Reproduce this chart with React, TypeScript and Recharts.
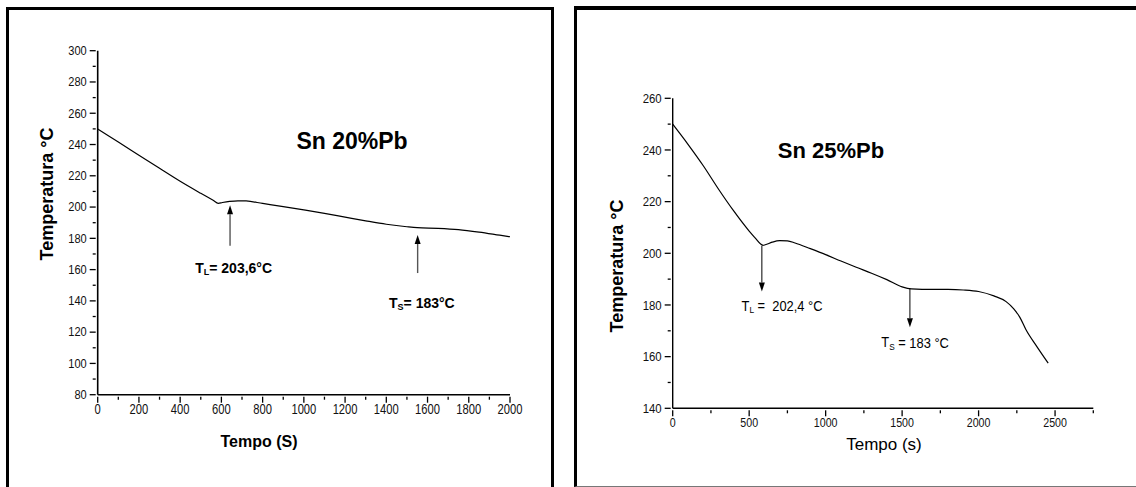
import React from "react";
import { LineChart, Line, XAxis, YAxis, ReferenceLine, ReferenceDot } from "recharts";

// Sn 20%Pb cooling curve
const sn20Time = [0, 100, 200, 300, 400, 500, 560, 585, 605, 640, 680, 720, 800, 900, 1000, 1100, 1200, 1300, 1400, 1500, 1550, 1650, 1750, 1850, 1950, 2000];
const sn20Temp = [250, 241.6, 233.2, 224.8, 216.5, 208.8, 204.3, 202.4, 202.9, 203.6, 204, 203.9, 202.3, 200.3, 198.2, 196, 193.6, 191.2, 189, 187.4, 186.8, 186.4, 185.6, 184, 182, 181];

// Sn 25%Pb cooling curve
const sn25Time = [0, 100, 200, 300, 400, 500, 540, 575, 590, 605, 650, 700, 750, 800, 900, 1000, 1100, 1200, 1300, 1400, 1500, 1560, 1700, 1800, 1900, 2000, 2100, 2180, 2230, 2270, 2310, 2380, 2455];
const sn25Temp = [250, 242.2, 233.9, 224.8, 216.3, 208.6, 205.9, 203.6, 203.1, 203.3, 204.3, 204.9, 204.8, 204, 201.8, 199.5, 197, 194.6, 192.3, 189.8, 187, 186.2, 186, 186, 185.8, 185.2, 183.5, 181.3, 178.5, 175.2, 170.4, 164, 157.5];

// axis ticks (labelled every other one)
const sn20XTicks = [0, 100, 200, 300, 400, 500, 600, 700, 800, 900, 1000, 1100, 1200, 1300, 1400, 1500, 1600, 1700, 1800, 1900, 2000];
const sn20YTicks = [80, 90, 100, 110, 120, 130, 140, 150, 160, 170, 180, 190, 200, 210, 220, 230, 240, 250, 260, 270, 280, 290, 300];
const sn25XTicks = [0, 250, 500, 750, 1000, 1250, 1500, 1750, 2000, 2250, 2500, 2750];
const sn25YTicks = [140, 150, 160, 170, 180, 190, 200, 210, 220, 230, 240, 250, 260];

const sn20Data = sn20Time.map((t, i) => ({ t, temp: sn20Temp[i] }));
const sn25Data = sn25Time.map((t, i) => ({ t, temp: sn25Temp[i] }));

const ARIAL = "'Liberation Sans', Arial, sans-serif";

// tick labels are drawn condensed (scaleX) to get the narrow look
const bottomTick = (step: number, fontSize: number, squeeze: number) => (props: any) => {
  const { x, y, payload } = props;
  const major = payload.value % step === 0;
  return (
    <g>
      <line x1={x} y1={y} x2={x} y2={y + (major ? 6 : 3)} stroke="#000" strokeWidth={1.3} />
      {major && (
        <text
          transform={`translate(${x},${y + 17}) scale(${squeeze},1)`}
          textAnchor="middle"
          fontSize={fontSize}
          fontFamily={ARIAL}
          fill="#111"
        >
          {payload.value}
        </text>
      )}
    </g>
  );
};

const leftTick = (step: number, fontSize: number, squeeze: number) => (props: any) => {
  const { x, y, payload } = props;
  const major = payload.value % step === 0;
  return (
    <g>
      <line x1={x} y1={y} x2={x - (major ? 6 : 3)} y2={y} stroke="#000" strokeWidth={1.3} />
      {major && (
        <text
          transform={`translate(${x - 9},${y}) scale(${squeeze},1)`}
          textAnchor="end"
          dominantBaseline="central"
          fontSize={fontSize}
          fontFamily={ARIAL}
          fill="#111"
        >
          {payload.value}
        </text>
      )}
    </g>
  );
};

// vertical arrow, head at the second point of the segment
const arrow = (color: string, width: number) => (p: any) => {
  const { x1, y1, x2, y2 } = p;
  const dir = Math.sign(y2 - y1);
  const hl = 9;
  const hw = 3;
  return (
    <g>
      <line x1={x1} y1={y1} x2={x2} y2={y2 - dir * hl} stroke={color} strokeWidth={width} />
      <polygon points={`${x2},${y2} ${x2 - hw},${y2 - dir * hl} ${x2 + hw},${y2 - dir * hl}`} fill="#000" />
    </g>
  );
};

const tempLabel = (sub: string, rest: string, bold: boolean) => (p: any) => (
  <text
    transform={`translate(${p.cx},${p.cy}) scale(${bold ? 1 : 0.92},1)`}
    dominantBaseline="central"
    fontSize={14}
    fontWeight={bold ? "bold" : "normal"}
    fontFamily={ARIAL}
    fill="#000"
    style={{ whiteSpace: "pre" }}
  >
    T
    <tspan fontSize={9} dy={4}>{sub}</tspan>
    <tspan dy={-4}>{rest}</tspan>
  </text>
);

const abs = (left: number, top: number): React.CSSProperties => ({
  position: "absolute",
  left,
  top,
  transform: "translate(-50%, -50%)",
  whiteSpace: "nowrap",
  lineHeight: 1,
  color: "#000",
});

export default function App() {
  return (
    <div style={{ position: "fixed", left: 0, top: 0, width: 1136, height: 487, background: "#fff", overflow: "hidden", fontFamily: ARIAL }}>
      {/* panel frames */}
      <div style={{ position: "absolute", left: 6, top: 7, width: 542, height: 500, border: "3.5px solid #000" }} />
      <div style={{ position: "absolute", left: 574, top: 6, width: 600, height: 476, borderLeft: "3.5px solid #000", borderTop: "4px solid #000", borderBottom: "1.5px solid #777" }} />

      <LineChart
        width={560}
        height={487}
        data={sn20Data}
        margin={{ top: 50.7, right: 50, bottom: 62.3, left: 37.7 }}
        style={{ position: "absolute", left: 0, top: 0 }}
      >
        <XAxis
          type="number"
          dataKey="t"
          domain={[0, 2000]}
          ticks={sn20XTicks}
          interval={0}
          height={30}
          tickSize={0}
          tickLine={false}
          axisLine={{ stroke: "#000", strokeWidth: 1.6 }}
          tick={bottomTick(200, 14, 0.8)}
        />
        <YAxis
          type="number"
          domain={[80, 300]}
          ticks={sn20YTicks}
          interval={0}
          width={60}
          tickSize={0}
          tickLine={false}
          axisLine={{ stroke: "#000", strokeWidth: 1.6 }}
          tick={leftTick(20, 13, 0.85)}
        />
        <Line type="monotone" dataKey="temp" stroke="#000" strokeWidth={1.2} dot={false} isAnimationActive={false} />
        <ReferenceLine segment={[{ x: 642, y: 175.3 }, { x: 642, y: 201.2 }]} shape={arrow("#555", 1.4)} />
        <ReferenceLine segment={[{ x: 1552, y: 157.8 }, { x: 1552, y: 182.2 }]} shape={arrow("#555", 1.4)} />
        <ReferenceDot x={473} y={161} r={0} shape={tempLabel("L", "= 203,6°C", true)} />
        <ReferenceDot x={1413} y={138.6} r={0} shape={tempLabel("S", "= 183°C", true)} />
      </LineChart>

      <LineChart
        width={556}
        height={487}
        data={sn25Data}
        margin={{ top: 98.3, right: 42.7, bottom: 48.7, left: 32.7 }}
        style={{ position: "absolute", left: 580, top: 0 }}
      >
        <XAxis
          type="number"
          dataKey="t"
          domain={[0, 2750]}
          ticks={sn25XTicks}
          interval={0}
          height={30}
          tickSize={0}
          tickLine={false}
          axisLine={{ stroke: "#000", strokeWidth: 1.4 }}
          tick={bottomTick(500, 13, 0.82)}
        />
        <YAxis
          type="number"
          domain={[140, 260]}
          ticks={sn25YTicks}
          interval={0}
          width={60}
          tickSize={0}
          tickLine={false}
          axisLine={{ stroke: "#000", strokeWidth: 1.4 }}
          tick={leftTick(20, 12, 0.95)}
        />
        <Line type="monotone" dataKey="temp" stroke="#000" strokeWidth={1.2} dot={false} isAnimationActive={false} />
        <ReferenceLine segment={[{ x: 583, y: 203 }, { x: 583, y: 185.2 }]} shape={arrow("#000", 1)} />
        <ReferenceLine segment={[{ x: 1551, y: 186.3 }, { x: 1551, y: 171.4 }]} shape={arrow("#000", 1)} />
        <ReferenceDot x={450} y={179.5} r={0} shape={tempLabel("L", " =  202,4 °C", false)} />
        <ReferenceDot x={1364} y={165.5} r={0} shape={tempLabel("S", " = 183 °C", false)} />
      </LineChart>

      {/* titles and axis names */}
      <div style={{ ...abs(352, 141), fontSize: 23, fontWeight: "bold" }}>Sn 20%Pb</div>
      <div style={{ ...abs(47, 194), fontSize: 18, fontWeight: "bold", transform: "translate(-50%, -50%) rotate(-90deg)" }}>Temperatura °C</div>
      <div style={{ ...abs(259, 442), fontSize: 16, fontWeight: "bold" }}>Tempo (S)</div>

      <div style={{ ...abs(831, 151), fontSize: 22, fontWeight: "bold" }}>Sn 25%Pb</div>
      <div style={{ ...abs(617, 266), fontSize: 18, fontWeight: "bold", transform: "translate(-50%, -50%) rotate(-90deg)" }}>Temperatura °C</div>
      <div style={{ ...abs(884, 444), fontSize: 17 }}>Tempo (s)</div>
    </div>
  );
}
